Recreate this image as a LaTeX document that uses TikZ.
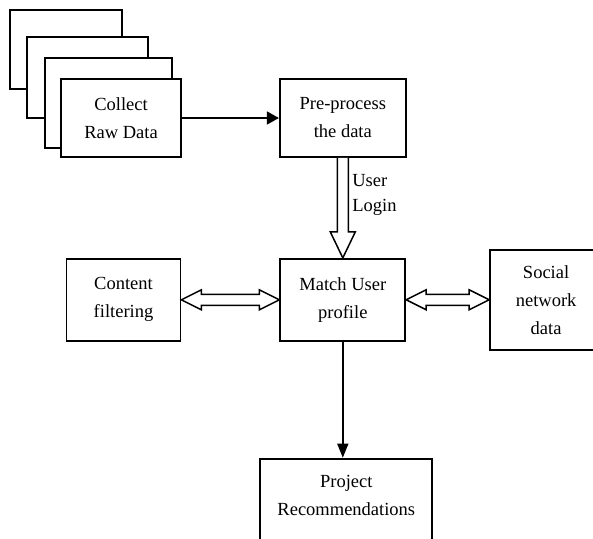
\documentclass[tikz,border=0pt]{standalone}
\usepackage{fontspec}
\setmainfont{Liberation Serif}
\usepackage{tikz}
\usetikzlibrary{arrows.meta, positioning, calc}

\begin{document}
\begin{tikzpicture}[
    x=1pt, y=1pt,
    box/.style={rectangle, draw, fill=white, line width=1.8pt, inner sep=0pt, align=center,
        font=\fontsize{18.5}{28}\selectfont},
    arrow/.style={-{Triangle[length=12pt, width=13pt]}, line width=1.6pt},
    thinarrow/.style={-{Triangle[length=14pt, width=11pt]}, line width=1.4pt},
    hollow/.style={draw, fill=white, line width=1.5pt, line join=miter},
]
\useasboundingbox (0,0) rectangle (593,-538);

% stapel rohdaten
\node[box, minimum width=112pt, minimum height=79pt] (rawA) at (66,-49.5) {};
\node[box, minimum width=121pt, minimum height=81pt] (rawB) at (87.5,-77.5) {};
\node[box, minimum width=127pt, minimum height=90pt] (rawC) at (108.5,-103) {};
\node[box, minimum width=120pt, minimum height=78pt] (collect) at (121,-118) {Collect\\Raw Data};

% verarbeitung
\node[box, minimum width=126pt, minimum height=78pt, right=97pt of collect] (pre) {Pre-process\\the data};
\node[box, minimum width=125pt, minimum height=82pt, below=100pt of pre] (match) {Match User\\profile};

% seitenquellen
\node[box, minimum width=114pt, minimum height=82pt, left=98pt of match] (content) {Content\\filtering};
\node[box, minimum width=112pt, minimum height=100pt, right=83pt of match] (social) {Social\\network\\data};

% ergebnis
\node[box, minimum width=172pt, text height=57pt, text depth=33pt, below=116pt of match, xshift=3.5pt] (project) {Project\\Recommendations};

% pfeile
\draw[arrow] (collect) -- (pre);
\draw[hollow] ($(pre.south)+(-5.5,0)$) -- node[right=11pt, midway, align=left,
        font=\fontsize{18.5}{25}\selectfont] (login) {User\\Login}
    ($(match.north)+(-5.5,26)$) -- ++(-7,0) -- (match.north)
    -- ($(match.north)+(12.5,26)$) -- ++(-7,0) -- ($(pre.south)+(5.5,0)$);
\draw[hollow] (content.east) -- ++(20,10) -- ++(0,-4.5) -- ($(match.west)+(-20,5.5)$)
    -- ++(0,4.5) -- (match.west) -- ++(-20,-10) -- ++(0,4.5)
    -- ($(content.east)+(20,-5.5)$) -- ++(0,-4.5) -- cycle;
\draw[hollow] (match.east) -- ++(20,10) -- ++(0,-4.5) -- ($(social.west)+(-20,5.5)$)
    -- ++(0,4.5) -- (social.west) -- ++(-20,-10) -- ++(0,4.5)
    -- ($(match.east)+(20,-5.5)$) -- ++(0,-4.5) -- cycle;
\draw[thinarrow] (match.south) -- (match.south |- project.north);

\end{tikzpicture}
\end{document}
